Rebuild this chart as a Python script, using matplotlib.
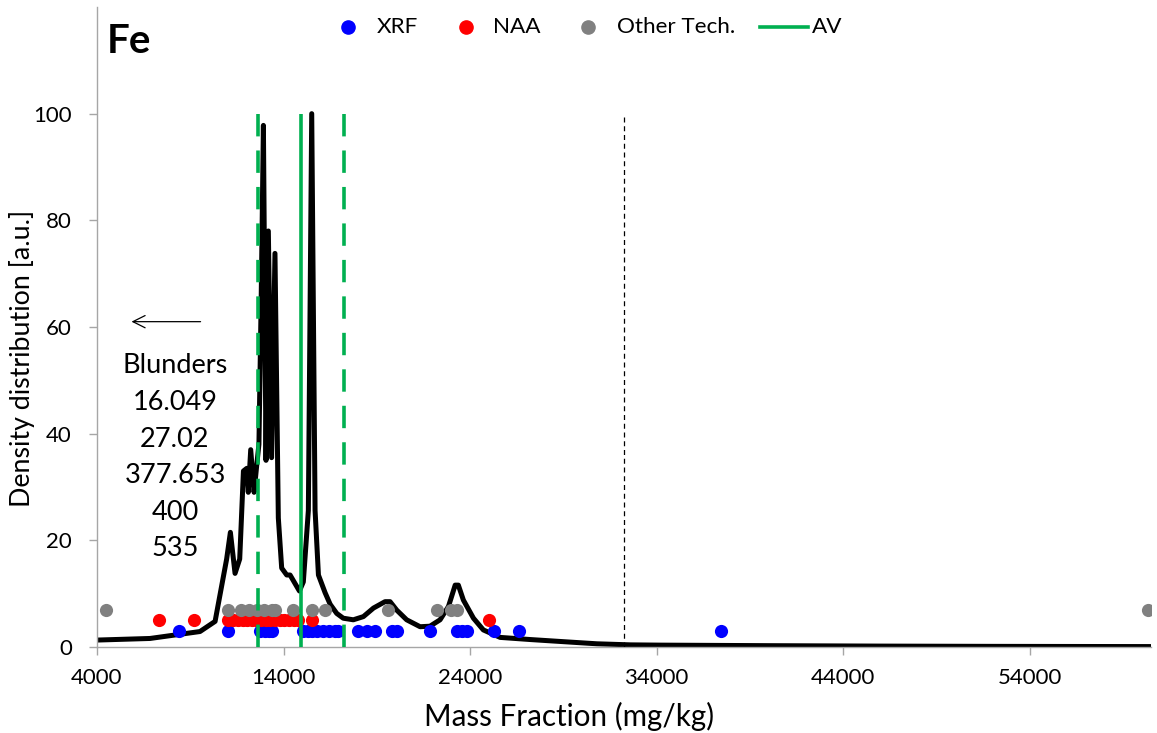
import matplotlib
matplotlib.use("Agg")
import matplotlib.pyplot as plt
from matplotlib.lines import Line2D

plt.rcParams["font.family"] = ["Lato", "DejaVu Sans"]

# density curve (mass fraction, a.u.)
curve_x = [4000, 6840, 9520, 10330, 10950, 11150, 11400, 11650, 11850, 12030,
           12110, 12240, 12420, 12560, 12680, 12800, 12920, 13060, 13185, 13360,
           13540, 13720, 13900, 14170, 14350, 14850, 15060, 15330, 15510, 15690,
           15870, 16225, 16500, 16850, 17200, 17740, 18280, 18820, 19440, 19710,
           20070, 20600, 21320, 21850, 22390, 22840, 23200, 23370, 23640, 24180,
           24710, 25610, 27220, 29000, 30800, 32600, 34200, 40000, 46000, 52000,
           60400]
curve_y = [1.3, 1.6, 2.9, 4.8, 16.5, 21.5, 13.8, 16.5, 33.0, 33.5,
           29.0, 37.0, 29.0, 34.0, 38.0, 65.0, 97.8, 35.0, 78.0, 35.5,
           73.8, 24.2, 14.8, 13.5, 13.5, 10.5, 12.2, 25.6, 100.0, 25.6,
           13.5, 10.2, 8.0, 6.3, 5.4, 5.1, 5.7, 7.3, 8.5, 8.5,
           6.9, 5.1, 3.8, 3.9, 5.1, 7.6, 11.6, 11.6, 8.8, 5.4,
           3.2, 1.8, 1.4, 1.0, 0.6, 0.4, 0.35, 0.25, 0.17, 0.12,
           0.08]

# lab results per technique
xrf_x = [8410, 11000, 12750, 13010, 13200, 13400, 15050, 15300, 15550, 15800,
         16100, 16450, 16760, 16940, 18010, 18460, 18900, 19800, 20060, 21860,
         23280, 23550, 23820, 25300, 26640, 37460]
naa_x = [7340, 9200, 11000, 11300, 11550, 11800, 12050, 12300, 12550, 12800,
         13050, 13300, 13550, 13800, 14050, 14300, 14550, 14800, 15510, 25000]
other_x = [4480, 11010, 11720, 12130, 12560, 12950, 13370, 13545, 14480, 15540,
           16230, 19620, 22250, 22960, 23320, 60350]
xrf_level, naa_level, other_level = 3, 5, 7

av = 14940
av_unc = 2320
cutoff = 32260
blunders = ["16.049", "27.02", "377.653", "400", "535"]

green = "#00B050"
axis_gray = "#A6A6A6"
W, H = 1157, 733

fig = plt.figure(figsize=(W / 100, H / 100), dpi=100)
ax = fig.add_axes([97 / W, 1 - 647 / H, (1151 - 97) / W, 640 / H])

ax.plot(curve_x, curve_y, color="black", lw=3.6, zorder=2, solid_joinstyle="round")

ax.scatter(xrf_x, [xrf_level] * len(xrf_x), s=90, color="#0000FF", zorder=3, linewidths=0)
ax.scatter(naa_x, [naa_level] * len(naa_x), s=90, color="#FF0000", zorder=3, linewidths=0)
ax.scatter(other_x, [other_level] * len(other_x), s=90, color="#808080", zorder=3, linewidths=0)

ax.vlines(av, 0, 100, color=green, lw=2.6, zorder=4)
ax.vlines([av - av_unc, av + av_unc], 0, 100, color=green, lw=2.6,
          linestyles=(0, (6.2, 3.9)), zorder=4)
ax.vlines(cutoff, 0, 100, color="black", lw=0.9, linestyles=(0, (4, 3)), zorder=4)

ax.annotate("", xy=(5700, 61), xytext=(9700, 61),
            arrowprops=dict(arrowstyle="->", color="black", lw=0.9,
                            mutation_scale=22))
ax.text(8180, 55.05, "Blunders\n" + "\n".join(blunders), ha="center", va="top",
        fontsize=19.5, linespacing=1.58)

ax.text(4500, 117, "Fe", fontsize=29, fontweight="bold", va="top", ha="left")

ax.set_xlim(4000, 60500)
ax.set_ylim(0, 120)
ax.set_xticks([4000, 14000, 24000, 34000, 44000, 54000])
ax.set_yticks([0, 20, 40, 60, 80, 100])
ax.tick_params(labelsize=16, color=axis_gray, length=6, width=1)
ax.tick_params(axis="y", pad=12)
ax.tick_params(axis="x", pad=9)
ax.spines[["top", "right"]].set_visible(False)
for side in ["left", "bottom"]:
    ax.spines[side].set_color(axis_gray)
    ax.spines[side].set_linewidth(1)

ax.set_xlabel("Mass Fraction (mg/kg)", fontsize=21.3, va="center")
ax.xaxis.set_label_coords((569 - 97) / 1054, (647 - 716) / 640)
ax.set_ylabel("Density distribution [a.u.]", fontsize=19.3, va="center")
ax.yaxis.set_label_coords((22 - 97) / 1054, (647 - 358) / 640)

# legend row drawn by hand to match the spacing of the original
leg_y = 1 - 27 / H
markers = [(348, 377, "#0000FF", "XRF"), (466, 493, "#FF0000", "NAA"),
           (588, 617, "#808080", "Other Tech.")]
for mx, tx, col, lab in markers:
    fig.add_artist(Line2D([mx / W], [leg_y], marker="o", ls="none", color=col,
                          markersize=9.5, transform=fig.transFigure))
    fig.text(tx / W, leg_y, lab, fontsize=16.2, va="center", ha="left")
fig.add_artist(Line2D([760 / W, 808 / W], [leg_y, leg_y], color=green, lw=2.6,
                      transform=fig.transFigure))
fig.text(812 / W, leg_y, "AV", fontsize=16.2, va="center", ha="left")

fig.savefig("out.png", dpi=100)
